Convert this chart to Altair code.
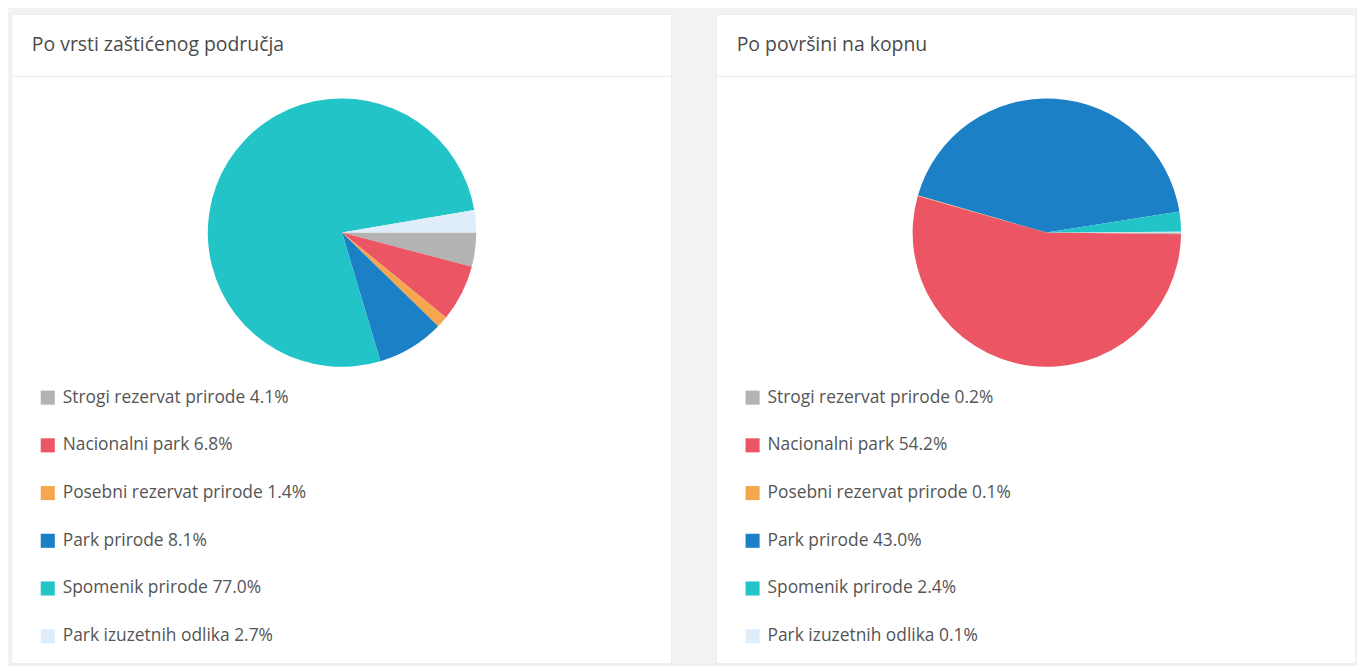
import math
import altair as alt
import pandas as pd

categories = [
    "Strogi rezervat prirode",
    "Nacionalni park",
    "Posebni rezervat prirode",
    "Park prirode",
    "Spomenik prirode",
    "Park izuzetnih odlika",
]
colors = ["#b3b3b3", "#eb5564", "#f6a64e", "#1b80c6", "#22c4c8", "#dfedf9"]

left_title = "Po vrsti zaštićenog područja"
left_values = [4.1, 6.8, 1.4, 8.1, 77.0, 2.7]

right_title = "Po površini na kopnu"
right_values = [0.2, 54.2, 0.1, 43.0, 2.4, 0.1]

FONT = "Open Sans"
TEXT_COLOR = "#555555"


def panel(title, values, width):
    df = pd.DataFrame({
        "cat": categories,
        "value": values,
        "order": list(range(len(categories))),
        "label": [f"{c} {v:.1f}%" for c, v in zip(categories, values)],
    })
    base = alt.Chart(df)
    color = alt.Color("cat:N", scale=alt.Scale(domain=categories, range=colors), legend=None)
    ypos = alt.Y("cat:N", scale=alt.Scale(type="point", domain=categories, range=[386, 626], padding=0), axis=None)

    pie = base.mark_arc(outerRadius=135).encode(
        theta=alt.Theta("value:Q", stack=True,
                        scale=alt.Scale(range=[math.pi / 2, math.pi / 2 + 2 * math.pi])),
        color=color,
        order=alt.Order("order:Q"),
        x=alt.value(333),
        y=alt.value(220),
    )
    squares = base.mark_square(size=200, opacity=1).encode(
        x=alt.value(37), y=ypos, color=color
    )
    labels = base.mark_text(align="left", baseline="middle", fontSize=17.5, font=FONT,
                            color=TEXT_COLOR).encode(
        x=alt.value(52), y=ypos, text="label:N"
    )
    head = alt.Chart(pd.DataFrame({"t": [title]})).mark_text(
        align="left", baseline="middle", fontSize=19.5, font=FONT, color="#4a4a4a"
    ).encode(x=alt.value(21), y=alt.value(31), text="t:N")
    sep = alt.Chart(pd.DataFrame({"t": [title]})).mark_rule(color="#f0f0f2", strokeWidth=1.5).encode(
        x=alt.value(0), x2=alt.value(width), y=alt.value(63)
    )
    return alt.layer(sep, head, pie, squares, labels).properties(width=width, height=653)


chart = alt.hconcat(
    panel(left_title, left_values, 664),
    panel(right_title, right_values, 643),
    spacing=41,
).properties(
    background="#f2f2f5",
    padding={"left": 1, "top": 3, "right": 0, "bottom": 0},
).configure_view(fill="white", stroke="#ededf0")

chart.save("out.html", embed_options={"renderer": "svg", "actions": False})
